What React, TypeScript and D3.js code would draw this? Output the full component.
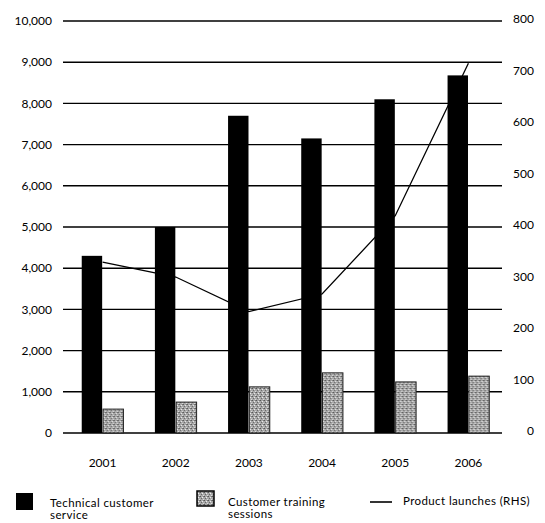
import React from 'react';
import * as d3 from 'd3';

const years = ['2001', '2002', '2003', '2004', '2005', '2006'];
const technicalService = [4300, 5000, 7700, 7150, 8100, 8680];
const trainingSessions = [580, 750, 1120, 1460, 1240, 1380];
const productLaunches = [328, 299, 232, 266, 418, 714];
const leftTicks = [0, 1000, 2000, 3000, 4000, 5000, 6000, 7000, 8000, 9000, 10000];
const rightTicks = [0, 100, 200, 300, 400, 500, 600, 700, 800];

const W = 545;
const H = 523;
const FONT = 'Lato, "Open Sans", sans-serif';

function App() {
  const x = d3.scaleBand().domain(years).range([66, 505]).paddingInner(0.43).paddingOuter(0.215);
  const sub = d3.scaleBand().domain(['tech', 'train']).range([0, x.bandwidth()]).paddingInner(0.04);
  const yL = d3.scaleLinear().domain([0, 10000]).range([433, 21]);
  const yR = d3.scaleLinear().domain([0, 800]).range([431, 19]);
  const fmt = d3.format(',');

  const line = d3.line<number>()
    .x((d, i) => (x(years[i]) as number) + x.bandwidth() / 2)
    .y(d => yR(d));

  return (
    <svg width={W} height={H} style={{ position: 'absolute', left: 0, top: 0, background: '#fff' }}>
      <defs>
        <pattern id="stipple" width="4" height="4" patternUnits="userSpaceOnUse">
          <rect width="4" height="4" fill="#a8a8a8" />
          <rect x="0" y="0" width="1" height="1" fill="#555" />
          <rect x="2" y="1" width="1" height="1" fill="#eee" />
          <rect x="1" y="2" width="1" height="1" fill="#666" />
          <rect x="3" y="3" width="1" height="1" fill="#ddd" />
          <rect x="3" y="0" width="1" height="1" fill="#777" />
        </pattern>
      </defs>

      {/* gridlines */}
      {leftTicks.map(t => (
        <line key={t} x1={63} x2={502} y1={yL(t)} y2={yL(t)} stroke="#000" strokeWidth={1.4} />
      ))}

      {/* left axis labels */}
      {leftTicks.map(t => (
        <text key={t} x={52} y={yL(t)} dy="0.35em" textAnchor="end" fontFamily={FONT} fontSize={12} fill="#000">
          {fmt(t)}
        </text>
      ))}

      {/* right axis labels */}
      {rightTicks.map(t => (
        <text key={t} x={534} y={yR(t)} dy="0.35em" textAnchor="end" fontFamily={FONT} fontSize={12} fill="#000">
          {t}
        </text>
      ))}

      {/* product launches line, behind bars */}
      <path d={line(productLaunches) || ''} fill="none" stroke="#000" strokeWidth={1.3} />

      {/* bars */}
      {years.map((yr, i) => (
        <g key={yr} transform={`translate(${x(yr)},0)`}>
          <rect x={sub('tech')} y={yL(technicalService[i])} width={sub.bandwidth()}
            height={yL(0) - yL(technicalService[i])} fill="#000" />
          <rect x={sub('train')} y={yL(trainingSessions[i])} width={sub.bandwidth()}
            height={yL(0) - yL(trainingSessions[i])} fill="url(#stipple)" stroke="#222" strokeWidth={1} />
        </g>
      ))}

      {/* x labels */}
      {years.map(yr => (
        <text key={yr} x={(x(yr) as number) + x.bandwidth() / 2} y={467} textAnchor="middle"
          fontFamily={FONT} fontSize={12} fill="#000">
          {yr}
        </text>
      ))}

      {/* legend */}
      <g fontFamily={FONT} fontSize={11.5} letterSpacing={0.4} fill="#000">
        <rect x={16} y={493} width={17} height={17} fill="#000" />
        <text x={50} y={507}>Technical customer</text>
        <text x={50} y={519}>service</text>

        <rect x={197} y={491} width={17} height={15} fill="url(#stipple)" stroke="#000" strokeWidth={1.5} />
        <text x={228} y={506}>Customer training</text>
        <text x={228} y={518}>sessions</text>

        <line x1={370} x2={392} y1={502} y2={502} stroke="#000" strokeWidth={1.6} />
        <text x={403} y={505}>Product launches (RHS)</text>
      </g>
    </svg>
  );
}

export default App;
